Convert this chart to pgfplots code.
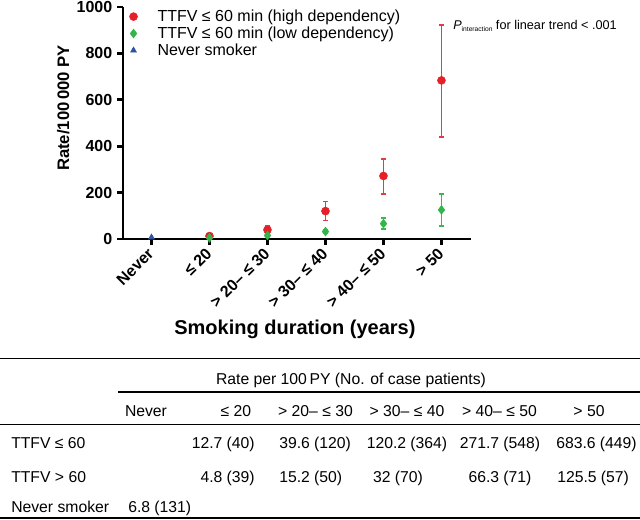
\documentclass[border=0pt]{standalone}
\usepackage{fontspec}
\setmainfont{Liberation Sans}
\usepackage{pgfplots}
\pgfplotsset{compat=1.18}
\definecolor{cred}{RGB}{230,32,40}
\definecolor{cgreen}{RGB}{52,180,74}
\definecolor{cblue}{RGB}{48,82,160}
\definecolor{ered}{RGB}{226,60,72}
\definecolor{egreen}{RGB}{60,182,84}
\pgfplotsset{
  ebred/.style={error bars/draw error bar/.code 2 args={%
    \draw[ered, line width=1.2pt] ##1 -- ##2;
    \draw[ered, line width=1.2pt] ##2 ++(-2pt,0pt) -- ++(4pt,0pt);}},
  ebgreen/.style={error bars/draw error bar/.code 2 args={%
    \draw[egreen, line width=1.2pt] ##1 -- ##2;
    \draw[egreen, line width=1.2pt] ##2 ++(-2pt,0pt) -- ++(4pt,0pt);}},
}
\begin{document}
\begin{tikzpicture}
\useasboundingbox (0,0) rectangle (480pt,390pt);
\begin{axis}[
  at={(92.25pt,210.75pt)}, anchor=south west,
  scale only axis, width=261pt, height=174pt,
  xmin=-0.491, xmax=5.509, ymin=0, ymax=1000,
  axis lines=left, axis line style={line width=2pt,-},
  xtick={0,...,5},
  xticklabels={Never,≤ 20,> 20– ≤ 30,> 30– ≤ 40,> 40– ≤ 50,> 50},
  ytick={0,200,...,1000},
  /pgf/number format/1000 sep={},
  /pgf/number format/assume math mode=true,
  tick align=outside, major tick length=4.5pt,
  every tick/.style={black, line width=2pt},
  tick label style={font=\bfseries\fontsize{12}{14}\selectfont},
  xticklabel style={xshift=2pt, yshift=-2pt, rotate=45, anchor=east},
  ylabel={Rate/100\,000 PY},
  ylabel style={at={(axis description cs:-0.172,0.565)}, anchor=center,
    font=\bfseries\fontsize{12.5}{15}\selectfont},
  xlabel={Smoking duration (years)},
  xlabel style={at={(axis description cs:0.494,-0.39)}, anchor=center,
    font=\bfseries\fontsize{15}{18}\selectfont},
  legend style={at={(axis description cs:-0.005,1.012)}, anchor=north west,
    draw=none, fill=none, font=\fontsize{12}{13}\selectfont, row sep=-1.5pt},
  legend cell align=left,
  legend image code/.code={%
    \path[draw=none] (0pt,0pt) -- (22pt,0pt);
    \draw plot[only marks] coordinates {(6pt,0pt)};},
  clip=false,
]
\addplot[only marks, mark=*, color=cred, mark size=3pt,
  error bars/y dir=both, error bars/y explicit, ebred]
  coordinates {
  (1,12.7) += (0,5) -= (0,4)
  (2,39.6) += (0,16) -= (0,14)
  (3,120.2) += (0,41) -= (0,41)
  (4,271.7) += (0,74) -= (0,77)
  (5,683.6) += (0,238) -= (0,244)
};
\addlegendentry{TTFV ≤ 60 min (high dependency)}
\addplot[only marks, mark=diamond*, color=cgreen, mark size=3.3pt,
  error bars/y dir=both, error bars/y explicit, ebgreen]
  coordinates {
  (1,4.8) += (0,2) -= (0,2)
  (2,15.2) += (0,5) -= (0,5)
  (3,32) += (0,8) -= (0,8)
  (4,66.3) += (0,23) -= (0,24)
  (5,125.5) += (0,68) -= (0,69)
};
\addlegendentry{TTFV ≤ 60 min (low dependency)}
\addplot[only marks, mark=triangle*, color=cblue, mark size=2.6pt]
  coordinates {(0,6.8)};
\addlegendentry{Never smoker}
\end{axis}
\begin{scope}[x=0.75pt, y=-0.75pt, shift={(0pt,390pt)}]
\node[anchor=west, inner sep=0pt] at (453,26)
  {\fontsize{9.5}{11}\selectfont\textit{P}\raisebox{-2pt}{\fontsize{5}{6}\selectfont interaction} for linear trend < .001};
\begin{scope}[font=\fontsize{11.8}{14}\selectfont, inner sep=0pt]
\draw[line width=1.1pt] (0,358.5) -- (640,358.5);
\node[anchor=base] at (351,385) {Rate per 100\,PY (No. of case patients)};
\draw[line width=1.1pt] (118,392) -- (640,392);
\node[anchor=base] at (146,417) {Never};
\node[anchor=base] at (236,417) {≤ 20};
\node[anchor=base] at (315.5,417) {> 20– ≤ 30};
\node[anchor=base] at (407,417) {> 30– ≤ 40};
\node[anchor=base] at (499.5,417) {> 40– ≤ 50};
\node[anchor=base] at (589,417) {> 50};
\draw[line width=1.1pt] (0,424.5) -- (640,424.5);
\node[anchor=base west] at (11,449) {TTFV ≤ 60};
\node[anchor=base east] at (255,449) {12.7 (40)};
\node[anchor=base west] at (279,449) {39.6 (120)};
\node[anchor=base] at (407,449) {120.2 (364)};
\node[anchor=base] at (500,449) {271.7 (548)};
\node[anchor=base west] at (556,449) {683.6 (449)};
\node[anchor=base west] at (11,483) {TTFV > 60};
\node[anchor=base east] at (255,483) {4.8 (39)};
\node[anchor=base west] at (279,483) {15.2 (50)};
\node[anchor=base] at (398,483) {32 (70)};
\node[anchor=base] at (500,483) {66.3 (71)};
\node[anchor=base west] at (557,483) {125.5 (57)};
\node[anchor=base west] at (11,513) {Never smoker};
\node[anchor=base west] at (128,513) {6.8 (131)};
\draw[line width=1.1pt] (0,518) -- (640,518);
\end{scope}
\end{scope}
\end{tikzpicture}
\end{document}
